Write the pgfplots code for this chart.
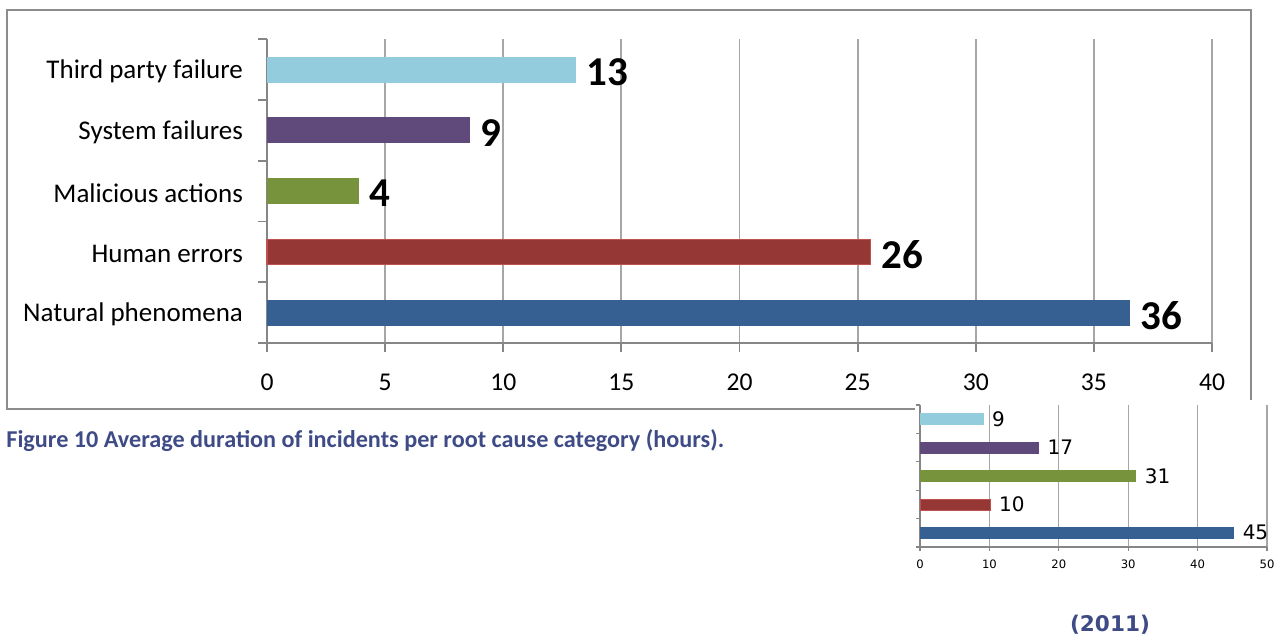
\documentclass[border=0pt]{standalone}
\usepackage{pgfplots}
\pgfplotsset{compat=1.18}
\usepackage{fontspec}
\setmainfont{Carlito}
\newfontfamily\verd{DejaVu Sans}
\definecolor{cA}{HTML}{93CDDD}
\definecolor{cB}{HTML}{604A7B}
\definecolor{cC}{HTML}{77933C}
\definecolor{cD}{HTML}{953735}
\definecolor{cDb}{HTML}{C0504D}
\definecolor{cE}{HTML}{376092}
\definecolor{framegray}{HTML}{8C8C8C}
\definecolor{axisgray}{HTML}{868686}
\definecolor{gridgray}{HTML}{A6A6A6}
\definecolor{capblue}{HTML}{3F4B86}
\begin{document}
\begin{tikzpicture}
\useasboundingbox (0,0) rectangle (643.5pt,-318.5pt);
\draw[framegray, line width=1pt] (3.5pt,-5pt) rectangle (625.5pt,-204.5pt);
\begin{axis}[
  at={(133.5pt,-171.5pt)}, anchor=south west, scale only axis,
  width=472.5pt, height=152pt,
  xmin=0, xmax=40, ymin=0.5, ymax=5.5,
  axis lines=left, axis line style={-, draw=axisgray, line width=0.9pt},
  xtick={0,5,...,40},
  ytick={1,...,5},
  yticklabels={Natural phenomena, Human errors, Malicious actions, System failures, Third party failure},
  minor ytick={0.5,1.5,...,5.5},
  tick align=outside, major tick length=4.5pt, minor tick length=4.5pt,
  every major y tick/.append style={draw=none},
  tick style={draw=axisgray, line width=0.9pt},
  xmajorgrids, major grid style={draw=gridgray, line width=0.9pt},
  /pgf/number format/assume math mode=true,
  xticklabel style={font=\fontsize{12.8}{14}\selectfont, yshift=-7.5pt},
  yticklabel style={font=\fontsize{13.5}{15}\selectfont, xshift=-4pt, yshift=-1pt},
  xbar, bar width=12.5pt, bar shift=0pt,
  point meta=explicit symbolic,
  nodes near coords,
  nodes near coords style={font=\bfseries\fontsize{20.5}{22}\selectfont, black, anchor=west, xshift=2pt, yshift=-1.3pt},
  clip=false,
]
\addplot[fill=cE, draw=cE] coordinates {(36.5,1) [36]};
\addplot[fill=cD, draw=cDb, line width=0.6pt] coordinates {(25.55,2) [26]};
\addplot[fill=cC, draw=cC] coordinates {(3.86,3) [4]};
\addplot[fill=cB, draw=cB] coordinates {(8.56,4) [9]};
\addplot[fill=cA, draw=cA] coordinates {(13.05,5) [13]};
\end{axis}
\fill[white] (457.5pt,-200pt) rectangle (643.5pt,-292pt);
\node[anchor=base west, inner sep=0pt, text=capblue, font=\bfseries\fontsize{12.1}{14}\selectfont] at (3pt,-223.5pt) {Figure 10 Average duration of incidents per root cause category (hours).};
\begin{axis}[
  at={(460pt,-273.5pt)}, anchor=south west, scale only axis,
  width=173.5pt, height=71pt,
  xmin=0, xmax=50, ymin=0.5, ymax=5.5,
  axis lines=left, axis line style={-, draw=axisgray, line width=0.6pt},
  xtick={0,10,...,50},
  ytick={1,...,5}, yticklabels={},
  minor ytick={0.5,1.5,...,5.5},
  tick align=outside, major tick length=2pt, minor tick length=2pt,
  every major y tick/.append style={draw=none},
  tick style={draw=axisgray, line width=0.6pt},
  xmajorgrids, major grid style={draw=gridgray, line width=0.6pt},
  /pgf/number format/assume math mode=true,
  xticklabel style={font=\verd\fontsize{5.8}{6}\selectfont, yshift=-1pt},
  xbar, bar width=5.5pt, bar shift=0pt,
  point meta=explicit symbolic,
  nodes near coords,
  nodes near coords style={font=\verd\fontsize{10}{11}\selectfont, black, anchor=west, xshift=1pt},
  clip=false,
]
\addplot[fill=cE, draw=cE] coordinates {(45.2,1) [45]};
\addplot[fill=cD, draw=cDb, line width=0.4pt] coordinates {(10.1,2) [10]};
\addplot[fill=cC, draw=cC] coordinates {(31.1,3) [31]};
\addplot[fill=cB, draw=cB] coordinates {(17.1,4) [17]};
\addplot[fill=cA, draw=cA] coordinates {(9.1,5) [9]};
\end{axis}
\node[text=capblue, font=\verd\bfseries\fontsize{10.8}{12}\selectfont] at (555pt,-312.5pt) {(2011)};
\end{tikzpicture}
\end{document}
